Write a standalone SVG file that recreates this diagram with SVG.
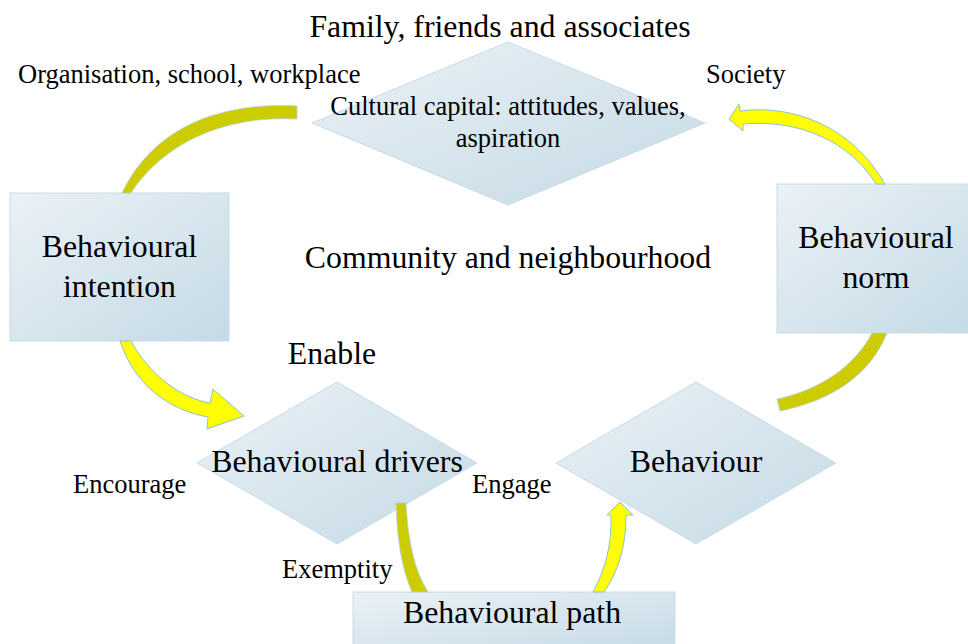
<svg xmlns="http://www.w3.org/2000/svg" width="968" height="644" viewBox="0 0 968 644">
  <defs>
    <linearGradient id="nodeFill" x1="0" y1="0" x2="1" y2="1">
      <stop offset="0" stop-color="#ebf1f7"/>
      <stop offset="1" stop-color="#c4dae5"/>
    </linearGradient>
    <style>
      .node { fill: url(#nodeFill); stroke: #c9dce6; stroke-width: 1; }
      .big { font-family: "Liberation Serif", "Times New Roman", serif; font-size: 31.8px; fill: #000; text-anchor: middle; }
      .small { font-family: "Liberation Serif", "Times New Roman", serif; font-size: 26.5px; fill: #000; }
      .arc-dim { fill: #cccc00; stroke: #b5d3df; stroke-width: 0.8; }
      .arc-bright { fill: #ffff00; stroke: #8fc3d4; stroke-width: 1; }
    </style>
  </defs>

  <rect width="968" height="644" fill="#ffffff"/>

  <!-- free labels -->
  <g id="labels">
    <text class="big" x="500" y="37">Family, friends and associates</text>
    <text class="small" x="18" y="83">Organisation, school, workplace</text>
    <text class="small" x="706" y="83">Society</text>
    <text class="big" x="508" y="268">Community and neighbourhood</text>
    <text class="big" x="332" y="364">Enable</text>
    <text class="small" x="73" y="493">Encourage</text>
    <text class="small" x="472" y="493">Engage</text>
    <text class="small" x="282" y="578">Exemptity</text>
  </g>

  <!-- nodes -->
  <g id="cultural-capital">
    <polygon class="node" points="508,42 705,123 508,205 312,123"/>
    <text class="small" x="508" y="115" text-anchor="middle">Cultural capital: attitudes, values,</text>
    <text class="small" x="508" y="147" text-anchor="middle">aspiration</text>
  </g>

  <g id="behavioural-intention">
    <rect class="node" x="10" y="193" width="219" height="148"/>
    <text class="big" x="119.5" y="257">Behavioural</text>
    <text class="big" x="119.5" y="297">intention</text>
  </g>

  <g id="behavioural-norm">
    <rect class="node" x="777" y="184" width="198" height="149"/>
    <text class="big" x="876" y="248">Behavioural</text>
    <text class="big" x="876" y="288">norm</text>
  </g>

  <g id="behavioural-drivers">
    <polygon class="node" points="337,382 477,463 337,544 197,463"/>
    <text class="big" x="337" y="472">Behavioural drivers</text>
  </g>

  <g id="behaviour">
    <polygon class="node" points="696,382 836,463 696,544 556,463"/>
    <text class="big" x="696" y="472">Behaviour</text>
  </g>

  <g id="behavioural-path">
    <rect class="node" x="353" y="592" width="322" height="60"/>
    <text class="big" x="512" y="623">Behavioural path</text>
  </g>

  <!-- connectors -->
  <g id="connectors">
    <!-- intention up to cultural capital -->
    <path class="arc-dim" d="M 122,193 C 148,138 205,101 297,106 L 297,119 C 222,115 162,145 131,193 Z"/>
    <!-- norm up to society -->
    <path class="arc-bright" d="M 729,119 L 739,104 L 740,111 C 792,104 852,126 885,184 L 876,184 C 850,142 800,119 743,124 L 743,131 Z"/>
    <!-- intention down to drivers -->
    <path class="arc-bright" d="M 120,341 C 134,384 168,410 208,417 L 207,429 L 244,416 L 213,389 L 210,403 C 180,398 149,374 131,341 Z"/>
    <!-- behaviour up to norm -->
    <path class="arc-dim" d="M 872,333 C 855,366 820,390 777,399 L 780,411 C 830,401 870,376 887,333 Z"/>
    <!-- drivers down to path -->
    <path class="arc-dim" d="M 396,503 L 406,503 C 408,540 414,570 428,592 L 412,592 C 402,570 397,540 396,503 Z"/>
    <!-- path up to behaviour -->
    <path class="arc-bright" d="M 593,592 C 605,570 612,545 611,515 L 607,515 L 620,502 L 633,515 L 626,515 C 626,548 618,572 604,592 Z"/>
  </g>
</svg>
